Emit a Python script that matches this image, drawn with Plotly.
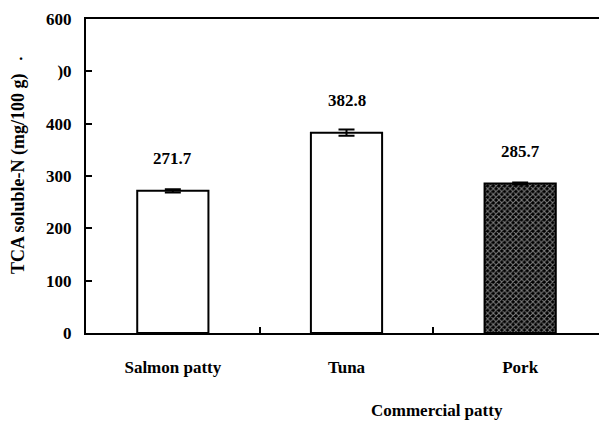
import plotly.graph_objects as go

categories = ["Salmon patty", "Tuna", "Pork"]
values = [271.7, 382.8, 285.7]
errors = [3, 6, 2]
value_labels = ["271.7", "382.8", "285.7"]
y_tickvals = [0, 100, 200, 300, 400, 500, 600]
y_ticktext = ["0", "100", "200", "300", "400", ")0", "600"]

FONT = "Liberation Serif, Times New Roman, serif"

fig = go.Figure()
fig.add_trace(go.Bar(
    x=categories,
    y=values,
    width=0.41,
    marker=dict(
        color=["white", "white", "black"],
        line=dict(color="black", width=2),
        pattern=dict(
            shape=["", "", "x"],
            fgcolor="white",
            bgcolor="black",
            size=4,
            solidity=0.45,
        ),
    ),
    error_y=dict(type="data", array=errors, visible=True, color="black",
                 thickness=2, width=8),
    showlegend=False,
))

for c, v, t in zip(categories, values, value_labels):
    fig.add_annotation(x=c, y=v, text="<b>%s</b>" % t, showarrow=False,
                       yshift=32, yanchor="middle",
                       font=dict(family=FONT, size=17, color="black"))

fig.add_annotation(xref="paper", yref="paper", x=(437 - 86) / 521, y=-(410 - 333) / 314,
                   text="<b>Commercial patty</b>", showarrow=False,
                   xanchor="center", yanchor="middle",
                   font=dict(family=FONT, size=17, color="black"))
fig.add_annotation(xref="paper", yref="paper", x=-(86 - 18) / 521, y=(333 - 174) / 314,
                   text="<b>TCA soluble-N (mg/100 g)</b>", showarrow=False,
                   textangle=-90, xanchor="center", yanchor="middle",
                   font=dict(family=FONT, size=18, color="black"))
fig.add_annotation(xref="paper", yref="paper", x=-(86 - 21) / 521, y=(333 - 55) / 314,
                   text="<b>.</b>", showarrow=False,
                   xanchor="center", yanchor="middle",
                   font=dict(family=FONT, size=16, color="black"))

fig.update_layout(
    width=599, height=413,
    margin=dict(l=78, r=0, t=11, b=88),
    plot_bgcolor="white", paper_bgcolor="white",
    bargap=0.59,
    xaxis=dict(
        type="category",
        range=[-0.5, 2.5],
        showline=True, linecolor="black", linewidth=2, mirror=True,
        ticks="inside", tickson="boundaries", ticklen=6, tickwidth=2, tickcolor="black",
        tickfont=dict(family=FONT, size=17, color="black"),
        ticklabelstandoff=18,
        tickprefix="<b>", ticksuffix="</b>",
        showgrid=False, zeroline=False, fixedrange=True,
    ),
    yaxis=dict(
        range=[0, 600],
        tickvals=y_tickvals, ticktext=["<b>%s</b>" % t for t in y_ticktext],
        showline=True, linecolor="black", linewidth=2,
        ticks="inside", ticklen=6, tickwidth=2, tickcolor="black",
        tickfont=dict(family=FONT, size=17, color="black"),
        ticklabelstandoff=9,
        showgrid=False, zeroline=False, fixedrange=True,
    ),
)

fig.write_html("out.html")
